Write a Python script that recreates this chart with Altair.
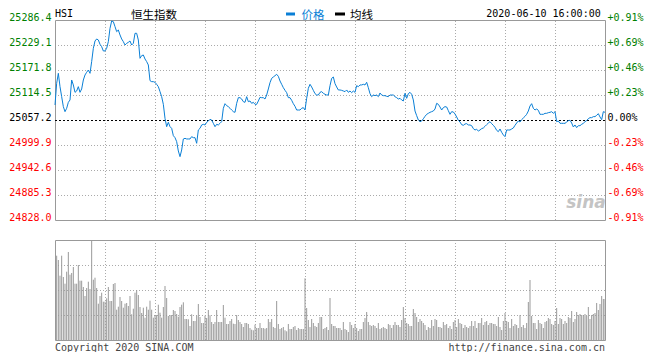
import altair as alt
import pandas as pd

# ---------------- data ----------------
PREV_CLOSE = 25057.2
PRICE_LO = 24828.0
PRICE_HI = 25286.4
LAST_MINUTE = 330
VOL_MAX = 100

# one price per trading minute, 09:30 .. 16:00 (lunch break removed)
price = [
    25091.6, 25141.3, 25164.2, 25133.6, 25110.7, 25087.8, 25076.3, 25084.0, 25097.7, 25103.1,
    25148.9, 25137.5, 25120.6, 25123.7, 25133.6, 25120.6, 25128.3, 25148.9, 25160.4, 25166.5,
    25171.8, 25164.2, 25191.0, 25221.5, 25238.3, 25242.9, 25240.6, 25230.7, 25225.3, 25215.4,
    25215.4, 25221.5, 25236.8, 25267.3, 25284.1, 25282.6, 25271.2, 25259.7, 25263.5, 25252.1,
    25242.9, 25236.8, 25229.1, 25232.9, 25235.2, 25238.3, 25229.1, 25232.9, 25255.9, 25255.9,
    25240.6, 25198.6, 25204.7, 25206.2, 25197.0, 25191.0, 25183.3, 25147.4, 25145.1, 25145.1,
    25143.6, 25138.9, 25133.6, 25122.2, 25110.7, 25093.1, 25061.0, 25041.9, 25051.9, 25041.9,
    25038.1, 25021.3, 25016.7, 25007.6, 24986.2, 24973.2, 24988.5, 25013.7, 25015.2, 25013.7,
    25013.7, 25013.7, 25019.0, 25016.7, 25016.7, 25003.8, 25034.3, 25038.1, 25045.8, 25047.3,
    25045.8, 25051.9, 25054.9, 25058.8, 25057.2, 25049.6, 25041.9, 25047.3, 25045.8, 25049.6,
    25053.4, 25084.0, 25094.6, 25090.1, 25087.8, 25084.0, 25080.1, 25076.3, 25074.8, 25095.4,
    25108.4, 25108.4, 25105.3, 25099.2, 25097.7, 25110.7, 25099.2, 25100.8, 25095.4, 25097.7,
    25093.1, 25093.1, 25100.8, 25109.2, 25108.4, 25108.4, 25105.3, 25114.5, 25128.3, 25142.8,
    25152.7, 25155.8, 25158.8, 25161.9, 25157.3, 25146.6, 25139.0, 25131.3, 25125.2, 25119.9,
    25108.4, 25108.4, 25102.3, 25094.6, 25088.6, 25080.1, 25080.1, 25080.1, 25084.0, 25085.5,
    25080.1, 25106.9, 25129.8, 25139.0, 25132.9, 25125.2, 25117.6, 25114.5, 25114.5, 25120.6,
    25122.2, 25118.4, 25116.1, 25114.5, 25114.5, 25135.9, 25152.7, 25155.8, 25140.5, 25132.9,
    25126.0, 25126.0, 25125.2, 25123.7, 25122.2, 25126.0, 25120.6, 25123.7, 25119.9, 25123.7,
    25120.6, 25135.9, 25133.6, 25137.5, 25137.5, 25139.0, 25137.5, 25143.6, 25131.3, 25117.6,
    25110.7, 25114.5, 25113.0, 25114.5, 25110.7, 25119.1, 25114.5, 25113.0, 25113.0, 25111.5,
    25110.7, 25114.5, 25114.5, 25114.5, 25110.7, 25108.4, 25105.3, 25106.9, 25103.1, 25100.8,
    25118.4, 25106.9, 25117.6, 25120.6, 25116.1, 25103.1, 25077.8, 25067.2, 25057.2, 25053.4,
    25054.9, 25060.0, 25065.6, 25070.2, 25072.5, 25074.8, 25076.3, 25077.8, 25082.4, 25095.4,
    25093.1, 25087.0, 25080.1, 25085.5, 25087.8, 25087.0, 25078.6, 25070.2, 25076.3, 25075.6,
    25071.0, 25064.1, 25056.5, 25052.6, 25046.5, 25045.0, 25048.1, 25048.8, 25045.8, 25045.8,
    25044.2, 25037.4, 25034.3, 25035.8, 25032.0, 25034.3, 25037.4, 25038.9, 25042.7, 25046.5,
    25050.3, 25053.4, 25048.8, 25045.0, 25040.4, 25033.5, 25030.5, 25036.6, 25029.0, 25022.9,
    25019.0, 25034.3, 25034.3, 25034.3, 25036.6, 25038.9, 25045.0, 25050.3, 25054.9, 25052.6,
    25058.0, 25061.8, 25065.6, 25070.2, 25077.8, 25089.3, 25094.6, 25084.0, 25080.1, 25082.4,
    25079.4, 25070.2, 25070.2, 25070.2, 25072.5, 25072.5, 25074.0, 25074.8, 25076.3, 25072.5,
    25076.3, 25053.4, 25054.9, 25049.6, 25049.6, 25049.6, 25049.6, 25052.6, 25055.7, 25056.5,
    25050.3, 25041.2, 25045.8, 25039.7, 25044.2, 25044.2, 25047.3, 25049.6, 25053.4, 25055.7,
    25060.3, 25062.6, 25062.6, 25064.9, 25064.9, 25067.9, 25071.7, 25064.1, 25058.0, 25076.3,
    25074.8,
]

# volume per minute (relative units, tallest bar = 100), minutes 1 .. 330
volume = [
    84.3, 80.0, 64.3, 84.3, 63.0, 56.3, 68.3, 88.0, 65.3, 67.0,
    73.0, 56.3, 56.3, 75.0, 59.3, 59.3, 53.0, 44.0, 52.0, 58.3,
    51.0, 100.0, 60.3, 62.3, 52.0, 36.3, 44.0, 47.3, 38.3, 38.3,
    41.7, 53.0, 39.0, 39.0, 56.0, 57.0, 30.3, 33.3, 43.0, 39.0,
    32.3, 36.3, 37.0, 34.0, 44.0, 25.7, 31.3, 47.3, 50.0, 45.0,
    33.0, 27.0, 32.3, 22.3, 33.3, 30.3, 39.3, 30.3, 22.3, 25.0,
    25.0, 35.3, 27.3, 22.3, 33.0, 54.0, 42.0, 24.0, 25.0, 25.0,
    30.0, 29.0, 26.0, 23.3, 33.0, 35.3, 37.7, 21.0, 21.0, 20.7,
    14.0, 25.7, 19.0, 19.0, 24.3, 36.0, 23.0, 17.0, 17.0, 24.3,
    22.0, 30.0, 24.7, 18.0, 16.0, 18.0, 30.0, 18.0, 18.0, 18.0,
    35.0, 22.3, 16.0, 16.0, 19.0, 21.0, 16.3, 16.0, 25.0, 20.0,
    18.0, 16.0, 13.0, 17.0, 17.0, 16.0, 12.0, 10.3, 9.7, 15.3,
    12.0, 12.0, 17.0, 12.0, 12.0, 11.3, 12.0, 21.0, 18.0, 21.0,
    13.0, 12.0, 39.0, 16.0, 11.0, 12.0, 13.0, 9.7, 8.7, 16.0,
    11.0, 11.0, 13.0, 14.0, 10.0, 12.0, 11.0, 11.0, 11.0, 61.7,
    32.0, 20.0, 13.0, 21.0, 17.0, 14.0, 13.0, 17.0, 23.0, 23.0,
    11.0, 12.0, 13.0, 10.0, 42.0, 16.0, 14.0, 14.0, 12.0, 12.0,
    12.0, 10.0, 18.0, 11.0, 10.0, 8.0, 18.0, 15.0, 12.0, 16.0,
    12.0, 9.0, 11.0, 11.0, 18.0, 22.0, 28.0, 18.0, 15.0, 14.0,
    15.0, 14.0, 12.0, 17.0, 11.0, 12.0, 13.0, 12.0, 11.0, 16.0,
    15.0, 12.0, 15.0, 18.0, 15.0, 15.0, 13.0, 20.0, 33.0, 22.0,
    17.0, 16.0, 14.0, 14.0, 31.0, 27.0, 23.0, 18.0, 21.0, 19.0,
    17.0, 15.0, 10.0, 13.0, 12.0, 20.0, 14.0, 21.0, 20.0, 13.0,
    13.0, 12.0, 18.0, 15.0, 16.0, 12.0, 14.0, 11.0, 18.0, 20.0,
    13.0, 21.0, 17.0, 16.0, 12.0, 15.0, 13.0, 12.0, 14.0, 19.0,
    14.0, 19.0, 12.0, 17.0, 17.0, 22.0, 15.0, 18.0, 19.0, 15.0,
    17.0, 17.0, 16.0, 16.0, 14.0, 23.0, 13.0, 10.0, 19.0, 27.0,
    19.0, 18.0, 12.0, 21.0, 14.0, 16.0, 15.0, 12.0, 25.0, 13.0,
    15.0, 12.0, 17.0, 38.0, 60.0, 24.0, 17.0, 17.0, 11.0, 20.0,
    17.0, 16.0, 12.0, 18.0, 19.0, 22.0, 21.0, 16.0, 15.0, 19.0,
    32.0, 16.0, 22.0, 21.0, 16.0, 19.0, 17.0, 23.0, 22.0, 29.0,
    18.0, 21.0, 28.0, 25.0, 26.0, 25.0, 25.0, 26.0, 24.0, 33.0,
    21.0, 25.0, 26.0, 27.0, 37.0, 30.0, 36.0, 44.0, 41.0, 41.0,
]

price_ticks = [24828.0, 24885.3, 24942.6, 24999.9, 25057.2, 25114.5, 25171.8, 25229.1, 25286.4]
time_ticks = [0, 60, 150, 210, 270, 330]
time_labels = ["09:30", "10:30", "12:00/13:00", "14:00", "15:00", "16:00"]
grid_minutes = [30, 60, 90, 120, 150, 180, 210, 240, 270, 300]
vol_grid = [25, 50, 75]

# ---------------- styling ----------------
BLUE = "#0a7fd6"
GREEN = "#008000"
RED = "#ff0000"
FRAME = "#999999"
GRID = "#aaaaaa"
MONO = "DejaVu Sans Mono"
CJK = "Noto Sans CJK SC"

W, H = 550, 320
PRICE_H = 200
GAP = 20

pct_half = (PRICE_HI / PREV_CLOSE - 1) * 100
pct_ticks = [(p / PREV_CLOSE - 1) * 100 for p in price_ticks]

price_df = pd.DataFrame({"m": list(range(len(price))), "price": price})
vol_df = pd.DataFrame({"m": list(range(1, len(volume) + 1)), "vol": volume, "zero": 0.0})

xs = alt.Scale(domain=[0, LAST_MINUTE], range=[0, W], nice=False, zero=False)
ps = alt.Scale(domain=[PRICE_LO, PRICE_HI], range=[PRICE_H, 0], nice=False, zero=False)
pcs = alt.Scale(domain=[-pct_half, pct_half], range=[PRICE_H, 0], nice=False, zero=False)
vs = alt.Scale(domain=[0, VOL_MAX], range=[H, PRICE_H + GAP], nice=False, zero=False)

X_NONE = dict(scale=xs, axis=None)

# ---- price panel grid + frame ----
vgrid_p = alt.Chart(pd.DataFrame({"m": grid_minutes, "lo": PRICE_LO, "hi": PRICE_HI})).mark_rule(
    color=GRID, strokeDash=[1, 2], strokeWidth=1, xOffset=0.5
).encode(x=alt.X("m:Q", **X_NONE), y=alt.Y("lo:Q", scale=ps, axis=None), y2="hi:Q")

hgrid_p = alt.Chart(pd.DataFrame({"p": price_ticks[1:-1], "a": 0, "b": LAST_MINUTE})).transform_filter(
    f"abs(datum.p - {PREV_CLOSE}) > 0.01"
).mark_rule(color=GRID, strokeDash=[1, 2], strokeWidth=1, yOffset=0.5).encode(
    x=alt.X("a:Q", **X_NONE), x2="b:Q", y=alt.Y("p:Q", scale=ps, axis=None)
)

frame_p = alt.Chart(pd.DataFrame({"a": [0], "b": [LAST_MINUTE], "lo": [PRICE_LO], "hi": [PRICE_HI]})).mark_rect(
    fillOpacity=0, stroke=FRAME, strokeWidth=1, xOffset=0.5, x2Offset=0.5, yOffset=0.5, y2Offset=0.5
).encode(x=alt.X("a:Q", **X_NONE), x2="b:Q", y=alt.Y("lo:Q", scale=ps, axis=None), y2="hi:Q")

# ---- previous close dashed line, carries the right-hand percent axis ----
pct_expr = ("datum.value > 0.001 ? '+' + format(datum.value, '.2f') + '%' : "
            "(datum.value < -0.001 ? '-' + format(-datum.value, '.2f') + '%' : '0.00%')")
pct_color = {
    "condition": [
        {"test": "datum.value > 0.001", "value": GREEN},
        {"test": "datum.value < -0.001", "value": RED},
    ],
    "value": "#000000",
}
baseline = alt.Chart(pd.DataFrame({"a": [0], "b": [LAST_MINUTE], "z": [0.0]})).mark_rule(
    color="#000000", strokeDash=[2, 2], strokeWidth=1, yOffset=0.5
).encode(
    x=alt.X("a:Q", **X_NONE), x2="b:Q",
    y=alt.Y("z:Q", scale=pcs, axis=alt.Axis(
        orient="right", values=pct_ticks, labelExpr=pct_expr, labelColor=pct_color,
        labelBaseline="alphabetic", labelPadding=2, labelFont=MONO, labelFontSize=10,
        ticks=False, tickSize=0, domain=False, grid=False, title=None, labelOverlap=False,
    )),
)

# ---- price line with left and bottom axes ----
price_color = {
    "condition": [
        {"test": f"datum.value > {PREV_CLOSE + 0.05}", "value": GREEN},
        {"test": f"datum.value < {PREV_CLOSE - 0.05}", "value": RED},
    ],
    "value": "#000000",
}
time_expr = " : ".join(
    f"datum.value == {t} ? '{lab}'" for t, lab in zip(time_ticks, time_labels)
) + " : ''"
line = alt.Chart(price_df).mark_line(color=BLUE, strokeWidth=1).encode(
    x=alt.X("m:Q", scale=xs, axis=alt.Axis(
        orient="bottom", offset=-(H - PRICE_H), values=time_ticks, labelExpr=time_expr,
        labelColor=BLUE, labelFont=MONO, labelFontSize=10, labelFlush=True, labelOverlap=False,
        labelPadding=3, labelBaseline="top",
        labelOffset={"condition": {"test": f"datum.value == 0 || datum.value == {LAST_MINUTE}", "value": 0}, "value": -5},
        ticks=False, tickSize=0, domain=False, grid=False, title=None,
    )),
    y=alt.Y("price:Q", scale=ps, axis=alt.Axis(
        orient="left", values=price_ticks, format=".1f", labelColor=price_color,
        labelBaseline="alphabetic", labelPadding=4, labelFont=MONO, labelFontSize=10,
        ticks=False, tickSize=0, domain=False, grid=False, title=None, labelOverlap=False,
    )),
)

# ---- volume panel ----
vgrid_v = alt.Chart(pd.DataFrame({"m": grid_minutes, "lo": 0.0, "hi": float(VOL_MAX)})).mark_rule(
    color=GRID, strokeDash=[1, 2], strokeWidth=1, xOffset=0.5
).encode(x=alt.X("m:Q", **X_NONE), y=alt.Y("lo:Q", scale=vs, axis=None), y2="hi:Q")

hgrid_v = alt.Chart(pd.DataFrame({"v": vol_grid, "a": 0, "b": LAST_MINUTE})).mark_rule(
    color=GRID, strokeDash=[1, 2], strokeWidth=1, yOffset=0.5
).encode(x=alt.X("a:Q", **X_NONE), x2="b:Q", y=alt.Y("v:Q", scale=vs, axis=None))

bars = alt.Chart(vol_df).mark_rule(color="#999999", strokeWidth=1).encode(
    x=alt.X("m:Q", **X_NONE), y=alt.Y("vol:Q", scale=vs, axis=None), y2="zero:Q"
)

frame_v = alt.Chart(pd.DataFrame({"a": [0], "b": [LAST_MINUTE], "lo": [0.0], "hi": [float(VOL_MAX)]})).mark_rect(
    fillOpacity=0, stroke=FRAME, strokeWidth=1, xOffset=0.5, x2Offset=0.5, yOffset=0.5, y2Offset=0.5
).encode(x=alt.X("a:Q", **X_NONE), x2="b:Q", y=alt.Y("lo:Q", scale=vs, axis=None), y2="hi:Q")


# ---- texts ----
def label(txt, x, y, align="left", font=MONO, size=10, color="#000000", **kw):
    return alt.Chart(pd.DataFrame({"t": [txt]})).mark_text(
        align=align, baseline="middle", font=font, fontSize=size, color=color, **kw
    ).encode(x=alt.value(x), y=alt.value(y), text="t:N")


def dash(x1, x2, y, color):
    return alt.Chart(pd.DataFrame({"k": [0]})).mark_rule(color=color, strokeWidth=3).encode(
        x=alt.value(x1), x2=alt.value(x2), y=alt.value(y)
    )


texts = [
    label("HSI", 0, -6.5),
    label("恒生指数", 76, -4.5, font=CJK, size=11.5),
    dash(231, 240, -6, BLUE),
    label("价格", 246.5, -4.5, font=CJK, size=11.5, color=BLUE),
    dash(280, 290, -6, "#000000"),
    label("均线", 295, -4.5, font=CJK, size=11.5),
    label("2020-06-10 16:00:00", 545.7, -6.5, align="right"),
    label("Copyright 2020 SINA.COM", 0, 328, color="#444444"),
    label("http://finance.sina.com.cn", 550, 328, align="right", color="#444444"),
    label("sina", 531, 183, align="center", font="DejaVu Sans", size=17, color="#c4c4c4",
          fontStyle="italic", fontWeight="bold"),
]

chart = alt.layer(
    vgrid_p, hgrid_p, frame_p, baseline, line,
    vgrid_v, hgrid_v, bars, frame_v,
    *texts,
).resolve_scale(y="independent").properties(
    width=W, height=H,
    padding={"left": 47, "top": 12, "right": 47, "bottom": 12},
    autosize=alt.AutoSizeParams(type="none"),
    background="#ffffff",
).configure_view(strokeWidth=0)

chart.save("out.html", embed_options={"renderer": "svg", "actions": False})
